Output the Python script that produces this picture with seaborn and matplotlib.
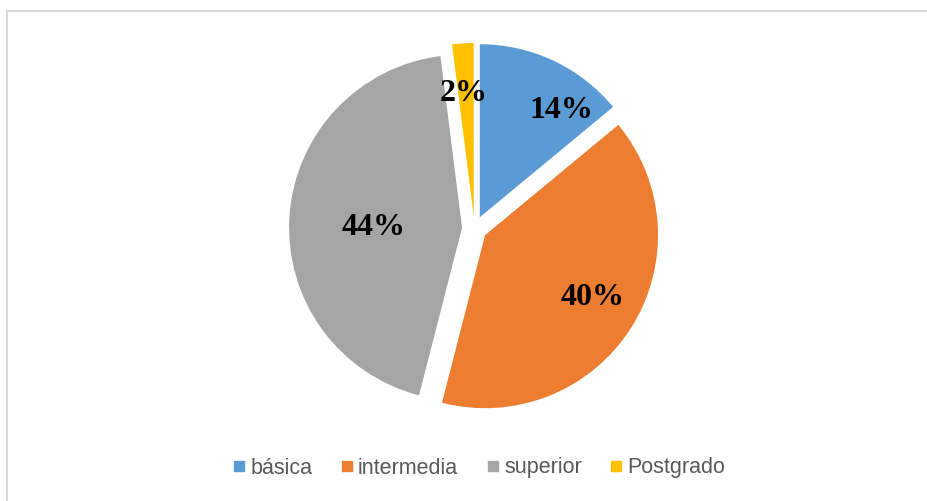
import numpy as np
import matplotlib
matplotlib.use("Agg")
import matplotlib.pyplot as plt
from matplotlib.lines import Line2D
import seaborn as sns

categories = ["básica", "intermedia", "superior", "Postgrado"]
values = [14, 40, 44, 2]
colors = ["#5B9BD5", "#ED7D31", "#A5A5A5", "#FFC000"]

sns.set_theme(style="white")
plt.rcParams['font.family'] = ['Liberation Sans', 'DejaVu Sans']

W, H = 927, 501
fig = plt.figure(figsize=(W / 100, H / 100), dpi=100)
ax = fig.add_axes([0, 0, 1, 1])

R = 173.0
cx, cy = 474.5, 228.5
explode = [0.072] * 4
wedges, _ = ax.pie(values, colors=colors, startangle=90, counterclock=False,
                   explode=explode, radius=1.0,
                   wedgeprops=dict(linewidth=0))

# label placement (distance, angle in degrees) relative to each wedge's apex
label_polar = [(0.789, 53.5), (0.708, -28.7), (0.512, 177.9), (0.728, 94.4)]
for w, v, (d, a) in zip(wedges, values, label_polar):
    th = np.deg2rad(a)
    ox, oy = w.center
    ax.text(ox + d * np.cos(th), oy + d * np.sin(th) - 0.018, f"{v}%",
            ha="center", va="center", fontsize=23, fontweight="bold",
            family=["Liberation Serif", "DejaVu Serif"], color="black")

ax.set_xlim(-cx / R, (W - cx) / R)
ax.set_ylim(-(H - cy) / R, cy / R)
ax.set_aspect("auto")
ax.axis("off")

handles = [Line2D([0], [0], marker="s", linestyle="none", markersize=6.5,
                  markerfacecolor=c, markeredgecolor=c) for c in colors]
leg = fig.legend(handles, categories, loc="center", ncol=4,
                 bbox_to_anchor=(479.5 / W, 1 - 468 / H), frameon=False,
                 fontsize=15.5, handletextpad=0.28, columnspacing=1.35,
                 handlelength=0.5, borderpad=0, borderaxespad=0)
for t in leg.get_texts():
    t.set_color("#595959")

border = "#D9D9D9"
fig.add_artist(Line2D([7 / W, 1], [1 - 11 / H, 1 - 11 / H], transform=fig.transFigure,
                      color=border, lw=1.5))
fig.add_artist(Line2D([7 / W, 7 / W], [0, 1 - 11 / H], transform=fig.transFigure,
                      color=border, lw=1.5))

fig.savefig("out.png", dpi=100, facecolor="white")
